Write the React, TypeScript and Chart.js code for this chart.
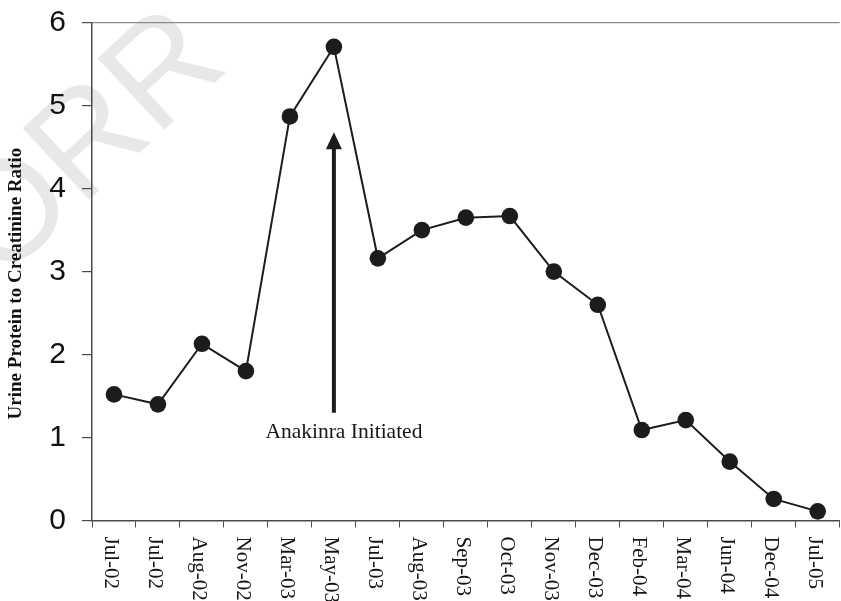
import React, { useEffect, useRef } from "react";
import { Chart, registerables } from "chart.js";

Chart.register(...registerables);

// ---- data ----
const categories = [
  "Jul-02", "Jul-02", "Aug-02", "Nov-02", "Mar-03", "May-03", "Jul-03", "Aug-03",
  "Sep-03", "Oct-03", "Nov-03", "Dec-03", "Feb-04", "Mar-04", "Jun-04", "Dec-04", "Jul-05",
];
const ratioValues = [
  1.52, 1.40, 2.13, 1.80, 4.87, 5.71, 3.16, 3.50,
  3.65, 3.67, 3.00, 2.60, 1.09, 1.21, 0.71, 0.26, 0.11,
];
const yMin = 0;
const yMax = 6;
const yStep = 1;
const yAxisTitle = "Urine Protein to Creatinine Ratio";
const annotationLabel = "Anakinra Initiated";
const annotationIndex = 5; // May-03
const arrowTopValue = 4.68;
const arrowBottomValue = 1.3;
const annotationTextValue = 0.99;
const watermarkText = "ORR";

const CANVAS_W = 848;
const CANVAS_H = 640;
const INK = "#1c1c1c";
const AXIS = "#4a4a4a";

const watermarkPlugin = {
  id: "watermark",
  beforeDraw(chart: any) {
    const ctx = chart.ctx;
    ctx.save();
    ctx.translate(0, 283);
    ctx.rotate((-43 * Math.PI) / 180);
    ctx.font = '142px "Liberation Sans", Arial, sans-serif';
    ctx.fillStyle = "#e8e8e8";
    ctx.textAlign = "left";
    ctx.textBaseline = "alphabetic";
    ctx.fillText(watermarkText, 0, 0);
    ctx.restore();
  },
};

const overlayPlugin = {
  id: "overlay",
  afterDraw(chart: any) {
    const ctx = chart.ctx;
    const xs = chart.scales.x;
    const ys = chart.scales.y;
    const area = chart.chartArea;
    ctx.save();

    // y-axis title
    ctx.save();
    ctx.translate(16, (area.top + area.bottom) / 2 + 12);
    ctx.rotate(-Math.PI / 2);
    ctx.font = 'bold 19px "Liberation Serif", "Times New Roman", serif';
    ctx.fillStyle = "#111";
    ctx.textAlign = "center";
    ctx.textBaseline = "middle";
    ctx.fillText(yAxisTitle, 0, 0);
    ctx.restore();

    // rotated x labels (reading top to bottom)
    ctx.font = '21px "Liberation Serif", "Times New Roman", serif';
    ctx.fillStyle = "#161616";
    ctx.textAlign = "left";
    ctx.textBaseline = "middle";
    const labelTop = area.bottom + 16;
    categories.forEach((lab, i) => {
      const x = xs.getPixelForValue(i);
      ctx.save();
      ctx.translate(x - 3, labelTop);
      ctx.rotate(Math.PI / 2);
      ctx.fillText(lab, 0, 0);
      ctx.restore();
    });

    // arrow annotation
    const ax = xs.getPixelForValue(annotationIndex);
    const tipY = ys.getPixelForValue(arrowTopValue);
    const botY = ys.getPixelForValue(arrowBottomValue);
    const headLen = 17;
    const headHalf = 8;
    ctx.strokeStyle = INK;
    ctx.fillStyle = INK;
    ctx.lineWidth = 4;
    ctx.beginPath();
    ctx.moveTo(ax, botY);
    ctx.lineTo(ax, tipY + headLen - 1);
    ctx.stroke();
    ctx.beginPath();
    ctx.moveTo(ax, tipY);
    ctx.lineTo(ax - headHalf, tipY + headLen);
    ctx.lineTo(ax + headHalf, tipY + headLen);
    ctx.closePath();
    ctx.fill();

    ctx.font = '21.5px "Liberation Serif", "Times New Roman", serif';
    ctx.fillStyle = "#161616";
    ctx.textAlign = "center";
    ctx.textBaseline = "alphabetic";
    ctx.fillText(annotationLabel, ax + 10, ys.getPixelForValue(annotationTextValue));
    ctx.restore();
  },
};

export default function App() {
  const canvasRef = useRef<HTMLCanvasElement | null>(null);

  useEffect(() => {
    if (!canvasRef.current) return;
    const chart = new Chart(canvasRef.current, {
      type: "line",
      data: {
        labels: categories,
        datasets: [
          {
            label: yAxisTitle,
            data: ratioValues,
            borderColor: INK,
            backgroundColor: INK,
            borderWidth: 2,
            pointRadius: 8.3,
            pointBackgroundColor: INK,
            pointBorderColor: INK,
            pointBorderWidth: 0,
            tension: 0,
            fill: false,
          },
        ],
      },
      options: {
        responsive: false,
        animation: false,
        events: [],
        layout: { padding: { top: 22.7, right: 0, left: 0, bottom: 0 } },
        plugins: {
          legend: { display: false },
          tooltip: { enabled: false },
          title: { display: false },
        },
        scales: {
          x: {
            type: "category",
            offset: true,
            afterFit(scale: any) {
              scale.height = CANVAS_H - 520.5;
              scale.paddingLeft = 0;
              scale.paddingRight = 0;
            },
            grid: {
              offset: true,
              drawOnChartArea: false,
              drawTicks: true,
              tickLength: 7,
              tickColor: AXIS,
              tickWidth: 1,
            },
            border: { display: true, color: AXIS, width: 1.5 },
            ticks: { display: false, autoSkip: false },
          },
          y: {
            type: "linear",
            min: yMin,
            max: yMax,
            afterFit(scale: any) {
              scale.width = 92;
              scale.paddingTop = 0;
              scale.paddingBottom = 0;
            },
            ticks: {
              stepSize: yStep,
              padding: 16,
              color: "#111",
              font: { family: '"Liberation Sans", Arial, sans-serif', size: 30 },
            },
            grid: {
              drawOnChartArea: true,
              drawTicks: true,
              tickLength: 10,
              tickColor: AXIS,
              lineWidth: 1.2,
              color: (ctx: any) =>
                ctx.tick && ctx.tick.value === yMax ? "#8a8a8a" : "rgba(0,0,0,0)",
            },
            border: { display: true, color: AXIS, width: 1.5 },
            title: { display: false },
          },
        },
      },
      plugins: [watermarkPlugin, overlayPlugin],
    });
    return () => chart.destroy();
  }, []);

  return (
    <div
      style={{
        position: "fixed",
        left: 0,
        top: 0,
        width: CANVAS_W,
        height: CANVAS_H,
        background: "#fff",
      }}
    >
      <canvas
        ref={canvasRef}
        width={CANVAS_W}
        height={CANVAS_H}
        style={{ display: "block", width: CANVAS_W, height: CANVAS_H }}
      />
    </div>
  );
}
